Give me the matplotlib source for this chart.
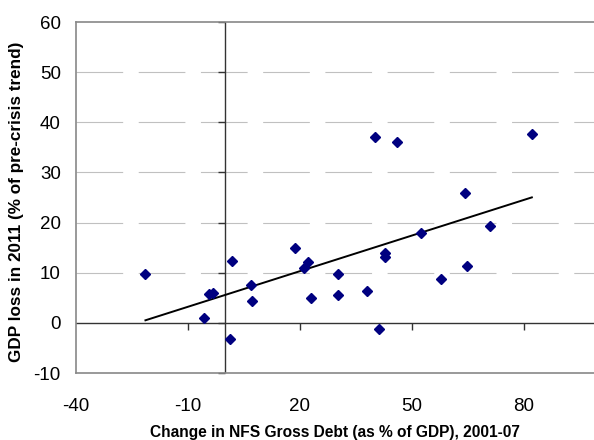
import numpy as np
import matplotlib
matplotlib.use("Agg")
import matplotlib.pyplot as plt
import matplotlib.lines as mlines

plt.rcParams["font.family"] = ["Liberation Sans", "DejaVu Sans"]
plt.rcParams["axes.unicode_minus"] = False

# change in NFS gross debt (% of GDP), 2001-07
debt_change = [-21.4, -5.8, -4.4, -3.3, 1.7, 1.2, 7.0, 7.2, 18.6, 21.0,
               22.2, 23.0, 30.1, 30.3, 38.0, 41.1, 40.2, 45.9, 42.9, 42.9,
               52.3, 57.9, 64.3, 64.6, 70.8, 82.1]
# GDP loss in 2011 (% of pre-crisis trend)
gdp_loss = [9.7, 0.9, 5.7, 5.9, 12.3, -3.2, 7.5, 4.3, 14.9, 10.9,
            12.1, 4.9, 9.8, 5.6, 6.4, -1.3, 37.1, 36.1, 13.9, 13.1,
            17.9, 8.8, 25.8, 11.3, 19.4, 37.7]

x_ticks = [-40, -10, 20, 50, 80]
y_ticks = [-10, 0, 10, 20, 30, 40, 50, 60]

fig = plt.figure(figsize=(5.94, 4.40), dpi=100)
ax = fig.add_axes([76 / 594, 1 - 373 / 440, 1 - 76 / 594, 351 / 440])

ax.set_xlim(-40, 98.75)
ax.set_ylim(-10, 60)

# dashed gridlines
for yv in y_ticks[2:-1]:
    ax.axhline(yv, color="#c0c0c0", lw=0.8, ls=(0, (42, 14)), zorder=1)

# axes through the origin
ax.axhline(0, color="#333333", lw=1.0, zorder=2)
ax.axvline(0, color="#333333", lw=1.0, zorder=2)
ax.plot(np.zeros(len(y_ticks)), y_ticks, ls="", marker=mlines.TICKLEFT,
        ms=5, mew=1.0, color="#333333", clip_on=False, zorder=2)
ax.plot(x_ticks[1:], np.zeros(len(x_ticks) - 1), ls="", marker=mlines.TICKDOWN,
        ms=5, mew=1.0, color="#333333", clip_on=False, zorder=2)

# scatter
ax.plot(debt_change, gdp_loss, ls="", marker="D", ms=4.6, color="#000080",
        mec="#000080", zorder=4)

# linear trend
coef = np.polyfit(debt_change, gdp_loss, 1)
xs = np.array([min(debt_change), max(debt_change)])
ax.plot(xs, np.polyval(coef, xs), color="black", lw=1.4, zorder=3)

# frame
for side in ["left", "top", "bottom"]:
    ax.spines[side].set_color("#888888")
    ax.spines[side].set_linewidth(1.2)
ax.spines["right"].set_visible(False)

ax.set_xticks(x_ticks)
ax.set_yticks(y_ticks)
ax.tick_params(axis="x", length=0, pad=18, labelsize=13.5)
ax.tick_params(axis="y", length=0, pad=11, labelsize=13.5)

ax.set_xlabel("Change in NFS Gross Debt (as % of GDP), 2001-07",
              fontsize=11.2, fontweight="bold", va="center")
ax.xaxis.set_label_coords(0.5, (373 - 432) / 351)
ax.set_ylabel("GDP loss in 2011 (% of pre-crisis trend)",
              fontsize=12.3, fontweight="bold", va="center")
ax.yaxis.set_label_coords((17 - 76) / 518, (373 - 202) / 351)

fig.savefig("out.png", dpi=100)
